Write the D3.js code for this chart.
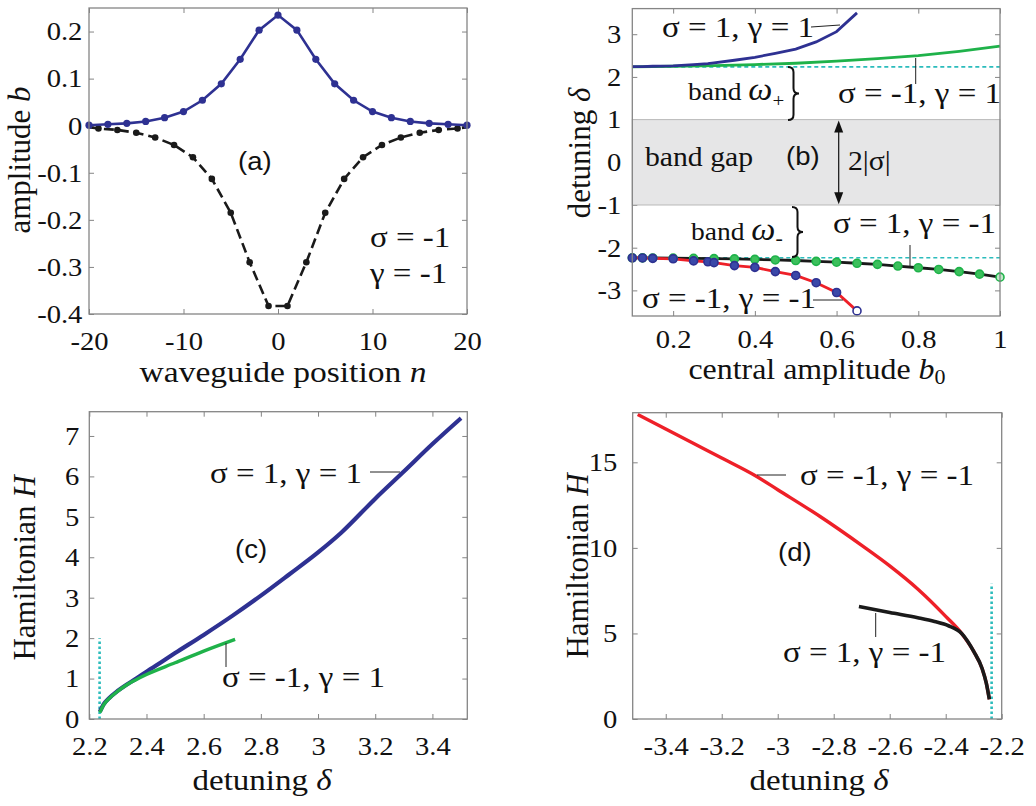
<!DOCTYPE html>
<html>
<head>
<meta charset="utf-8">
<script src="https://cdn.jsdelivr.net/npm/d3@7"></script>
<style>
  body { margin: 0; background: #fff; }
  svg { display: block; }
</style>
</head>
<body>
<svg id="fig" width="1036" height="806"></svg>
<script>
// ---------- panel (a): profiles b_n ----------
const nBlue = [-20, -18, -16, -14, -12, -10, -8, -6, -4, -2, 0, 2, 4, 6, 8, 10, 12, 14, 16, 18, 20];
const bBlue = [0.001, 0.003, 0.005, 0.009, 0.017, 0.030, 0.054, 0.089, 0.141, 0.203, 0.235,
               0.203, 0.141, 0.089, 0.054, 0.030, 0.017, 0.009, 0.005, 0.003, 0.001];
const nBlack = [-20, -19, -17, -15, -13, -11, -9, -7, -5, -3, -1, 1, 3, 5, 7, 9, 11, 13, 15, 17, 19, 20];
const bBlack = [-0.003, -0.006, -0.009, -0.015, -0.025, -0.041, -0.067, -0.113, -0.185, -0.290, -0.383,
                -0.383, -0.290, -0.185, -0.113, -0.067, -0.041, -0.025, -0.015, -0.009, -0.006, -0.003];

// ---------- panel (b): detuning vs central amplitude ----------
const b0Lower = [0.1, 0.125, 0.15, 0.2, 0.25, 0.285, 0.3, 0.35, 0.4, 0.45, 0.5, 0.55, 0.6, 0.65];
const deltaRed = [-2.24, -2.24, -2.25, -2.26, -2.31, -2.33, -2.35, -2.42, -2.46, -2.56, -2.65, -2.82, -3.05, -3.48];
const deltaBlueB = [2.24, 2.24, 2.25, 2.26, 2.29, 2.31, 2.33, 2.39, 2.46, 2.55, 2.65, 2.82, 3.06, 3.5];
const b0Black = [0.1, 0.125, 0.15, 0.2, 0.25, 0.3, 0.35, 0.4, 0.45, 0.5, 0.55, 0.6, 0.65, 0.7, 0.75, 0.8, 0.85, 0.9, 0.95, 1.0];
const deltaBlack = [-2.237, -2.238, -2.24, -2.243, -2.248, -2.255, -2.263, -2.273, -2.287, -2.30,
                    -2.32, -2.34, -2.365, -2.39, -2.43, -2.47, -2.51, -2.56, -2.62, -2.69];
const b0Green = [0.1, 0.2, 0.3, 0.4, 0.5, 0.6, 0.7, 0.8, 0.9, 1.0];
const deltaGreen = [2.237, 2.25, 2.265, 2.29, 2.32, 2.37, 2.43, 2.50, 2.60, 2.72];
const bandEdge = 2.236;   // sqrt(5), dashed band-edge lines

// ---------- panel (c): Hamiltonian, upper branch ----------
const dcBlue = [2.237, 2.25, 2.27, 2.3, 2.33, 2.36, 2.4, 2.45, 2.5, 2.6, 2.7, 2.8, 2.9, 3.0, 3.08, 3.2, 3.3, 3.4, 3.5];
const HcBlue = [0.18, 0.36, 0.52, 0.70, 0.85, 0.98, 1.17, 1.40, 1.63, 2.08, 2.55, 3.05, 3.58, 4.12, 4.60, 5.45, 6.12, 6.80, 7.44];
const dcGreen = [2.237, 2.25, 2.27, 2.3, 2.33, 2.36, 2.4, 2.5, 2.6, 2.71];
const HcGreen = [0.16, 0.35, 0.51, 0.69, 0.84, 0.96, 1.10, 1.39, 1.68, 1.97];

// ---------- panel (d): Hamiltonian, lower branch ----------
const ddRed = [-3.5, -3.4, -3.3, -3.2, -3.075, -3.0, -2.85, -2.7, -2.6, -2.5, -2.4, -2.343, -2.3, -2.27, -2.255, -2.244];
const HdRed = [17.8, 16.95, 16.1, 15.25, 14.17, 13.4, 11.85, 10.15, 8.95, 7.6, 6.0, 5.0, 3.95, 2.95, 2.1, 1.15];
const ddBlack = [-2.71, -2.6, -2.5, -2.44, -2.39, -2.343, -2.3, -2.27, -2.255, -2.244];
const HdBlack = [6.57, 6.22, 5.92, 5.70, 5.45, 5.0, 3.95, 2.95, 2.1, 1.15];

// ---------- ticks ----------
const aXTicks = [-20, -10, 0, 10, 20];
const aYTicks = [-0.4, -0.3, -0.2, -0.1, 0, 0.1, 0.2];
const bXTicks = [0.2, 0.4, 0.6, 0.8, 1];
const bYTicks = [-3, -2, -1, 0, 1, 2, 3];
const cXTicks = [2.2, 2.4, 2.6, 2.8, 3, 3.2, 3.4];
const cYTicks = [0, 1, 2, 3, 4, 5, 6, 7];
const dXTicks = [-3.4, -3.2, -3, -2.8, -2.6, -2.4, -2.2];
const dYTicks = [0, 5, 10, 15];

const BLUE = '#2e3192', GREEN = '#1fb24a', RED = '#ee2028', CYAN = '#2bbcbc',
      BLACK = '#1a1a1a', AXIS = '#858585';
const SERIF = '"Liberation Serif", "Times New Roman", serif';
const SANS = '"Liberation Sans", Arial, sans-serif';
const SX = 1.1;   // text in the figure is slightly wide
const NOTE = 30;  // annotation font size

const svg = d3.select('#fig');
const fmt = d => String(+d.toFixed(2));

function makePanel(box, xDom, yDom, xTicks, yTicks, yPad, xPad) {
  const x = d3.scaleLinear().domain(xDom).range([box.x0, box.x1]);
  const y = d3.scaleLinear().domain(yDom).range([box.y1, box.y0]);
  const g = svg.append('g');

  const axes = [
    [d3.axisBottom(x).tickValues(xTicks).tickFormat(fmt).tickPadding(xPad), `translate(0,${box.y1})`],
    [d3.axisTop(x).tickValues(xTicks).tickFormat(''), `translate(0,${box.y0})`],
    [d3.axisLeft(y).tickValues(yTicks).tickFormat(fmt).tickPadding(yPad), `translate(${box.x0},0)`],
    [d3.axisRight(y).tickValues(yTicks).tickFormat(''), `translate(${box.x1},0)`]
  ];
  axes.forEach(([ax, tr]) => {
    const ag = g.append('g').attr('transform', tr)
      .call(ax.tickSizeInner(-5).tickSizeOuter(0));
    ag.attr('font-family', null).attr('font-size', null);
    ag.select('.domain').remove();
    ag.selectAll('line').attr('stroke', AXIS);
    ag.selectAll('text')
      .attr('fill', '#111')
      .style('font-family', SERIF)
      .style('font-size', '26px')
      .attr('transform', `scale(${SX},1)`);
  });
  const plot = g.append('g');
  g.append('rect')
    .attr('x', box.x0).attr('y', box.y0)
    .attr('width', box.x1 - box.x0).attr('height', box.y1 - box.y0)
    .attr('fill', 'none').attr('stroke', AXIS).attr('stroke-width', 1.3);
  return { g, plot, x, y };
}

function note(x, y, parts, size, family, anchor) {
  const t = svg.append('text')
    .attr('transform', `translate(${x},${y}) scale(${SX},1)`)
    .attr('font-size', size)
    .attr('font-family', family || SERIF)
    .attr('text-anchor', anchor || 'start')
    .attr('fill', '#111');
  parts.forEach(p => {
    const s = t.append('tspan').text(typeof p === 'string' ? p : p.t);
    if (p.i) s.attr('font-style', 'italic');
    if (p.dy) s.attr('dy', p.dy);
    if (p.fs) s.attr('font-size', p.fs);
  });
  return t;
}

// right curly brace "}" spanning y0..y1
function brace(x, y0, y1) {
  const w = 11, h = y1 - y0, ym = (y0 + y1) / 2, c = x + w * 0.5, r = h * 0.1;
  svg.append('path')
    .attr('d', `M${x},${y0} Q${c},${y0} ${c},${y0 + r} L${c},${ym - r} Q${c},${ym} ${x + w},${ym}` +
               ` Q${c},${ym} ${c},${ym + r} L${c},${y1 - r} Q${c},${y1} ${x},${y1}`)
    .attr('fill', 'none').attr('stroke', '#111').attr('stroke-width', 2);
}

function ylab(x, y, parts) {
  const t = svg.append('text')
    .attr('transform', `translate(${x},${y}) rotate(-90)`)
    .attr('font-size', 31).attr('font-family', SERIF)
    .attr('text-anchor', 'middle').attr('fill', '#111');
  parts.forEach(p => {
    const s = t.append('tspan').text(typeof p === 'string' ? p : p.t);
    if (p.i) s.attr('font-style', 'italic');
  });
}

function leader(x1, y1, x2, y2) {
  svg.append('line').attr('x1', x1).attr('y1', y1).attr('x2', x2).attr('y2', y2)
    .attr('stroke', '#222').attr('stroke-width', 1);
}

const zip = (xs, ys) => xs.map((v, i) => [v, ys[i]]);

// ================= (a) =================
const pa = makePanel({ x0: 89, x1: 467, y0: 8, y1: 314 }, [-20, 20], [-0.4, 0.25], aXTicks, aYTicks, 6, 18);
const lineA = d3.line().x(d => pa.x(d[0])).y(d => pa.y(d[1]));
const blackA = zip(nBlack, bBlack), blueA = zip(nBlue, bBlue);
pa.plot.append('path').datum(blackA).attr('d', lineA)
  .attr('fill', 'none').attr('stroke', BLACK).attr('stroke-width', 2.6).attr('stroke-dasharray', '10,5');
pa.plot.selectAll('.mk').data(blackA.slice(1, -1)).join('circle')
  .attr('cx', d => pa.x(d[0])).attr('cy', d => pa.y(d[1])).attr('r', 3.3).attr('fill', BLACK);
pa.plot.append('path').datum(blueA).attr('d', lineA)
  .attr('fill', 'none').attr('stroke', BLUE).attr('stroke-width', 2.6);
pa.plot.selectAll('.mb').data(blueA).join('circle')
  .attr('cx', d => pa.x(d[0])).attr('cy', d => pa.y(d[1])).attr('r', 3.6).attr('fill', BLUE);

note(238, 170, ['(a)'], 25, SANS);
note(370, 247, ['σ = -1'], NOTE);
note(370, 283, ['γ = -1'], NOTE);
ylab(30, 160, ['amplitude ', { t: 'b', i: true }]);
note(283, 382, ['waveguide position ', { t: 'n', i: true }], 30.5, SERIF, 'middle');

// ================= (b) =================
const pb = makePanel({ x0: 632.3, x1: 1000, y0: 8.6, y1: 316 }, [0.1, 1], [-3.6, 3.6], bXTicks, bYTicks, 10, 14);
const lineB = d3.line().x(d => pb.x(d[0])).y(d => pb.y(d[1]));
pb.plot.append('rect')
  .attr('x', pb.x(0.1)).attr('y', pb.y(1))
  .attr('width', pb.x(1) - pb.x(0.1)).attr('height', pb.y(-1) - pb.y(1))
  .attr('fill', '#e6e6e7').attr('stroke', '#b9b9b9').attr('stroke-width', 1);
[bandEdge, -bandEdge].forEach(v => {
  pb.plot.append('line')
    .attr('x1', pb.x(0.1)).attr('x2', pb.x(1)).attr('y1', pb.y(v)).attr('y2', pb.y(v))
    .attr('stroke', CYAN).attr('stroke-width', 1.6).attr('stroke-dasharray', '4,3');
});
pb.plot.append('path').datum(zip(b0Green, deltaGreen)).attr('d', lineB)
  .attr('fill', 'none').attr('stroke', GREEN).attr('stroke-width', 2.8);
pb.plot.append('path').datum(zip(b0Lower, deltaBlueB)).attr('d', lineB)
  .attr('fill', 'none').attr('stroke', BLUE).attr('stroke-width', 2.8);
const blackB = zip(b0Black, deltaBlack), redB = zip(b0Lower, deltaRed);
pb.plot.append('path').datum(blackB).attr('d', lineB)
  .attr('fill', 'none').attr('stroke', BLACK).attr('stroke-width', 2.8);
pb.plot.append('path').datum(redB).attr('d', lineB)
  .attr('fill', 'none').attr('stroke', RED).attr('stroke-width', 2.8);
pb.plot.selectAll('.cg').data(blackB).join('circle')
  .attr('cx', d => pb.x(d[0])).attr('cy', d => pb.y(d[1])).attr('r', 4)
  .attr('fill', (d, i) => i === blackB.length - 1 ? '#bfe8c8' : '#3cc05c')
  .attr('stroke', GREEN).attr('stroke-width', 1.6);
pb.plot.selectAll('.cb').data(redB).join('circle')
  .attr('cx', d => pb.x(d[0])).attr('cy', d => pb.y(d[1])).attr('r', 4)
  .attr('fill', (d, i) => i === redB.length - 1 ? '#ffffff' : '#3a48a8')
  .attr('stroke', BLUE).attr('stroke-width', 1.6);

note(662, 37, ['σ = 1, γ = 1'], NOTE);
leader(811, 27, 840, 25);
note(838, 103, ['σ = -1, γ = 1'], NOTE);
leader(915.7, 58, 915.7, 84);
note(688, 100, ['band ', { t: 'ω', i: true, fs: 31 }, { t: '+', fs: 19, dy: 7 }], 25);
brace(788, 67, 120);
note(645, 166, ['band gap'], 27);
note(786, 165, ['(b)'], 25, SANS);
// double arrow 2|σ|
const ax = 838.7, ayTop = pb.y(0.98), ayBot = pb.y(-0.98);
svg.append('line').attr('x1', ax).attr('x2', ax).attr('y1', ayTop + 8).attr('y2', ayBot - 8)
  .attr('stroke', '#111').attr('stroke-width', 1.2);
svg.append('path').attr('d', `M${ax},${ayTop} l-4.5,12 l9,0 Z`).attr('fill', '#111');
svg.append('path').attr('d', `M${ax},${ayBot} l-4.5,-12 l9,0 Z`).attr('fill', '#111');
note(848, 170, ['2|σ|'], 27);
note(691, 240, ['band ', { t: 'ω', i: true, fs: 31 }, { t: '-', fs: 20, dy: 5 }], 25);
brace(792, 207, 257);
note(833, 233, ['σ = 1, γ = -1'], NOTE);
leader(910, 245, 910, 267);
note(642, 308, ['σ = -1, γ = -1'], NOTE);
leader(813, 300, 843, 300);
ylab(590, 153, ['detuning ', { t: 'δ', i: true }]);
note(817, 379, ['central amplitude ', { t: 'b', i: true }, { t: '0', fs: 20, dy: 5 }], 29, SERIF, 'middle');

// ================= (c) =================
const pc = makePanel({ x0: 89.3, x1: 467.3, y0: 411.7, y1: 719 }, [2.2, 3.522], [0, 7.6], cXTicks, cYTicks, 9, 18);
const lineC = d3.line().curve(d3.curveMonotoneX).x(d => pc.x(d[0])).y(d => pc.y(d[1]));
pc.plot.append('line')
  .attr('x1', pc.x(bandEdge)).attr('x2', pc.x(bandEdge)).attr('y1', pc.y(0)).attr('y2', pc.y(2))
  .attr('stroke', CYAN).attr('stroke-width', 2.6).attr('stroke-dasharray', '2.5,2.5');
pc.plot.append('path').datum(zip(dcBlue, HcBlue)).attr('d', lineC)
  .attr('fill', 'none').attr('stroke', BLUE).attr('stroke-width', 4.2);
pc.plot.append('path').datum(zip(dcGreen, HcGreen)).attr('d', lineC)
  .attr('fill', 'none').attr('stroke', GREEN).attr('stroke-width', 3.4);
note(210, 483, ['σ = 1, γ = 1'], NOTE);
leader(370, 472, 400, 472);
note(235, 558, ['(c)'], 25, SANS);
note(222, 687, ['σ = -1, γ = 1'], NOTE);
leader(226, 643, 226, 667);
ylab(35, 568, ['Hamiltonian ', { t: 'H', i: true }]);
note(262, 790, ['detuning ', { t: 'δ', i: true }], 30, SERIF, 'middle');

// ================= (d) =================
const pd = makePanel({ x0: 632.7, x1: 1001.7, y0: 412.7, y1: 719 }, [-3.518, -2.2], [0, 17.9], dXTicks, dYTicks, 14, 18);
const lineD = d3.line().curve(d3.curveMonotoneX).x(d => pd.x(d[0])).y(d => pd.y(d[1]));
pd.plot.append('line')
  .attr('x1', pd.x(-bandEdge)).attr('x2', pd.x(-bandEdge)).attr('y1', pd.y(0)).attr('y2', pd.y(7.9))
  .attr('stroke', CYAN).attr('stroke-width', 2.6).attr('stroke-dasharray', '2.5,2.5');
pd.plot.append('path').datum(zip(ddRed, HdRed)).attr('d', lineD)
  .attr('fill', 'none').attr('stroke', RED).attr('stroke-width', 3.4);
pd.plot.append('path').datum(zip(ddBlack, HdBlack)).attr('d', lineD)
  .attr('fill', 'none').attr('stroke', BLACK).attr('stroke-width', 3.6);
note(800, 485, ['σ = -1, γ = -1'], NOTE);
leader(757, 475, 786, 475);
note(778, 561, ['(d)'], 25, SANS);
note(783, 662, ['σ = 1, γ = -1'], NOTE);
leader(875.7, 613, 875.7, 637);
ylab(588, 566, ['Hamiltonian ', { t: 'H', i: true }]);
note(819, 790, ['detuning ', { t: 'δ', i: true }], 30, SERIF, 'middle');
</script>
</body>
</html>
